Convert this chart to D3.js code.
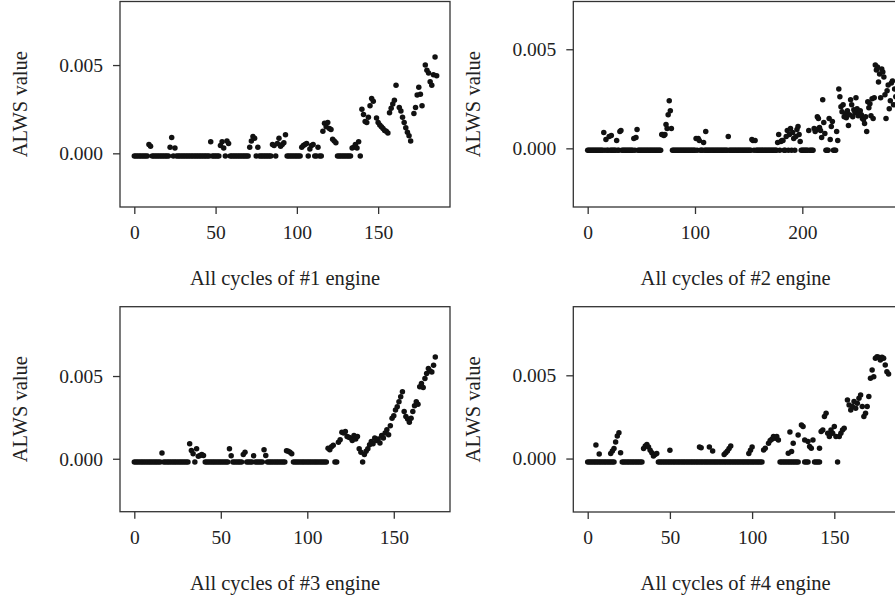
<!DOCTYPE html>
<html>
<head>
<meta charset="utf-8">
<script src="https://cdn.jsdelivr.net/npm/d3@7"></script>
<style>
  html, body { margin: 0; padding: 0; background: #fff; }
  svg { display: block; }
  text { font-family: "Liberation Serif", "Times New Roman", serif; fill: #222; }
</style>
</head>
<body>
<svg id="chart" width="895" height="604"></svg>
<script>
// ALWS value per cycle for four engines.
// flatN: runs of cycles [from, to] that sit on the flat level flatLevelN.
// raisedN: cycles whose ALWS value lifts above the flat level, as [cycle, value].

const flatLevel1 = -0.00015;
const flat1 = [[0,8],[11,21],[24,24],[26,46],[48,52],[56,56],[59,70],[75,75],[77,84],[87,87],
  [94,102],[107,107],[111,112],[114,115],[125,133],[139,139]];
const raised1 = [[9,.0005],[10,.0004],[22,.00035],[23,.0009],[25,.0003],[47,.00065],[53,.00045],
  [54,.00065],[55,.0003],[57,.0007],[58,.00055],[71,.00035],[72,.0007],[73,.00095],[74,.00085],
  [76,.00035],[85,.0005],[86,.00045],[88,.00055],[89,.00085],[90,.0004],[91,.0005],[92,.0006],
  [93,.00105],[103,.00035],[104,.00045],[105,.0005],[106,.00055],[108,.00025],[109,.00045],
  [110,.0005],[113,.00035],[116,.00125],[117,.0017],[118,.0015],[119,.00175],[120,.0014],
  [121,.00135],[122,.0008],[123,.0007],[124,.0006],[134,.0003],[135,.00035],[136,.0005],
  [137,.0003],[138,.00065],[140,.0025],[141,.0022],[142,.0018],[143,.00175],[144,.00205],
  [145,.0027],[146,.0031],[147,.00295],[149,.002],[150,.00175],[151,.0016],[152,.0015],
  [153,.0014],[154,.0013],[155,.00125],[156,.00115],[157,.0023],[158,.00255],[159,.0028],
  [160,.003],[161,.00385],[163,.0026],[164,.0024],[165,.00205],[166,.00175],[167,.00145],
  [168,.0012],[169,.001],[170,.0007],[172,.00225],[173,.0026],[174,.0033],[175,.00375],
  [176,.00335],[177,.0027],[179,.005],[180,.0047],[181,.00455],[182,.00405],[183,.00385],
  [184,.00445],[185,.00545],[186,.0044]];

const flatLevel2 = -0.0001;
const flat2 = [[0,14],[16,16],[18,19],[21,26],[28,29],[32,42],[44,44],[47,68],[79,100],[102,102],
  [105,107],[109,130],[132,152],[155,155],[157,176],[179,179],[183,184],[187,187],[190,190],
  [193,193],[199,205],[207,210],[222,224],[229,231]];
const raised2 = [[15,.0008],[17,.00045],[20,.0006],[22,.00065],[27,.0004],[30,.00085],[31,.0009],
  [43,.0005],[45,.00055],[46,.00095],[69,.0007],[70,.0007],[71,.00065],[72,.0007],[73,.0012],
  [74,.001],[75,.0017],[76,.0024],[77,.0019],[78,.001],[101,.0005],[103,.0005],[104,.0004],
  [108,.0003],[110,.00085],[131,.0006],[153,.00045],[154,.0004],[156,.0004],[177,.0003],
  [178,.0007],[180,.00035],[181,.0004],[182,.0004],[185,.0006],[186,.0009],[188,.0007],
  [189,.001],[191,.0008],[192,.0005],[194,.0006],[195,.00095],[196,.0011],[197,.0007],
  [198,.00035],[206,.0009],[211,.001],[212,.00085],[213,.00095],[214,.0016],[215,.0015],
  [216,.00105],[217,.0009],[218,.00055],[219,.00245],[220,.0013],[221,.00075],[225,.0015],
  [226,.00045],[227,.0011],[228,.00135],[232,.00085],[233,.0004],[234,.003],[235,.0026],
  [236,.0021],[237,.00185],[238,.0022],[239,.0016],[240,.00175],[241,.00155],[242,.0019],
  [243,.00115],[244,.0017],[245,.00245],[246,.0022],[247,.0016],[248,.00195],[249,.0018],
  [250,.00255],[251,.002],[252,.00165],[253,.0018],[254,.0019],[255,.0017],[256,.0015],
  [257,.00145],[258,.00125],[259,.0016],[260,.00085],[261,.00235],[262,.00205],[263,.00225],
  [264,.00165],[265,.0025],[266,.0015],[267,.00255],[268,.0042],[269,.00395],[270,.0041],
  [271,.00335],[272,.00375],[273,.00255],[274,.004],[275,.00385],[276,.0036],[277,.0027],
  [278,.0015],[279,.0029],[280,.0032],[281,.002],[282,.0024],[283,.0033],[284,.0034],
  [285,.0022],[286,.003],[287,.0026]];

const flatLevel3 = -0.0002;
const flat3 = [[0,15],[17,31],[35,35],[41,54],[57,62],[65,68],[70,74],[77,87],[92,111],[116,117],
  [132,132]];
const raised3 = [[16,.00035],[32,.0009],[33,.0005],[34,.0003],[36,.0006],[37,.00015],[38,.0002],
  [39,.00025],[40,.0002],[55,.0006],[56,.00018],[63,.00025],[64,.0004],[69,.00018],[75,.00055],
  [76,.0002],[88,.00048],[89,.00045],[90,.0004],[91,.0003],[112,.00063],[113,.00054],
  [114,.00072],[115,.00082],[118,.001],[119,.00115],[120,.0016],[121,.00155],[122,.00165],
  [123,.00135],[124,.0013],[125,.00125],[126,.0011],[127,.0014],[128,.0012],[129,.00135],
  [130,.0006],[131,.0004],[133,.00025],[134,.00045],[135,.0006],[136,.00085],[137,.00105],
  [138,.0009],[139,.00125],[140,.0011],[141,.0012],[142,.00095],[143,.0014],[144,.00125],
  [145,.00155],[146,.00175],[147,.00145],[148,.002],[149,.00245],[150,.0026],[151,.00295],
  [152,.00315],[153,.00345],[154,.00375],[155,.00405],[156,.00285],[157,.00255],[158,.0024],
  [159,.0022],[160,.00245],[161,.00285],[162,.0032],[163,.00345],[164,.0033],[165,.00435],
  [166,.00455],[167,.0043],[168,.00485],[169,.00515],[170,.00545],[171,.0053],[172,.00525],
  [173,.00565],[174,.00615]];

const flatLevel4 = -0.0002;
const flat4 = [[0,16],[21,33],[43,87],[88,106],[117,128],[132,134],[138,141],[152,152]];
const raised4 = [[5,.00082],[7,.00028],[14,.0003],[15,.00045],[16,.0006],[17,.001],[18,.00135],
  [19,.00155],[20,.00035],[34,.0006],[35,.00075],[36,.00085],[37,.0007],[38,.0005],[39,.00035],
  [40,.00015],[41,.00025],[42,.0003],[50,.0005],[68,.0007],[69,.00065],[74,.0007],[76,.00045],
  [83,.00025],[84,.00035],[85,.00045],[86,.0006],[87,.00075],[98,.0003],[99,.0005],[100,.0007],
  [107,.00052],[108,.00062],[110,.00092],[111,.00108],[112,.00116],[113,.00132],[114,.00122],
  [115,.00132],[116,.00112],[122,.00032],[123,.0016],[124,.00042],[125,.00092],[128,.00142],
  [130,.00202],[131,.00192],[132,.00112],[134,.00102],[135,.00072],[136,.00062],[137,.00112],
  [141,.00062],[142,.00162],[143,.00172],[144,.00252],[145,.00272],[146,.00152],[147,.00132],
  [148,.00172],[149,.00152],[150,.00192],[151,.00132],[153,.00132],[154,.00152],[155,.00172],
  [156,.00182],[158,.00352],[159,.00322],[160,.00292],[161,.00312],[162,.00342],[163,.00302],
  [164,.00332],[165,.00362],[166,.00382],[167,.00312],[168,.00252],[169,.00272],[170,.00312],
  [171,.00372],[172,.00482],[173,.00532],[174,.00492],[175,.00602],[176,.00612],[177,.00608],
  [178,.00592],[179,.00608],[180,.00602],[181,.00562],[182,.00522],[183,.00508]];

const xTicks1 = [0, 50, 100, 150];
const xTicks2 = [0, 100, 200];
const xTicks3 = [0, 50, 100, 150];
const xTicks4 = [0, 50, 100, 150];
const yTicks = [0, 0.005];
const xTitles = ["All cycles of #1 engine", "All cycles of #2 engine",
                 "All cycles of #3 engine", "All cycles of #4 engine"];
const yTitle = "ALWS value";

// Panel frames (pixels) and the data extent each frame spans.
const panels = [
  { flat: flat1, level: flatLevel1, raised: raised1, ticks: xTicks1, title: xTitles[0],
    left: 120, right: 450, top: 1.5, bottom: 207, xDom: [-8.8, 194.2], yDom: [-0.00304, 0.0086] },
  { flat: flat2, level: flatLevel2, raised: raised2, ticks: xTicks2, title: xTitles[1],
    left: 573.3, right: 903.3, top: 1.5, bottom: 207, xDom: [-13.4, 294.1], yDom: [-0.00296, 0.00741] },
  { flat: flat3, level: flatLevel3, raised: raised3, ticks: xTicks3, title: xTitles[2],
    left: 120, right: 450, top: 306.7, bottom: 511.7, xDom: [-8.27, 182.5], yDom: [-0.0032, 0.00919] },
  { flat: flat4, level: flatLevel4, raised: raised4, ticks: xTicks4, title: xTitles[3],
    left: 573.3, right: 903.3, top: 306.7, bottom: 512, xDom: [-8.76, 191.97], yDom: [-0.00321, 0.00912] }
];

const svg = d3.select("#chart");
const fmt = d3.format(".3f");
const INK = "#333";

panels.forEach(p => {
  const x = d3.scaleLinear().domain(p.xDom).range([p.left, p.right]);
  const y = d3.scaleLinear().domain(p.yDom).range([p.bottom, p.top]);

  // points: flat runs expanded to one point per cycle, then lifted cycles
  const pts = [];
  p.flat.forEach(([a, b]) => { for (let c = a; c <= b; c++) pts.push([c, p.level]); });
  p.raised.forEach(d => pts.push(d));

  const g = svg.append("g");

  g.append("g").selectAll("circle").data(pts).join("circle")
    .attr("cx", d => x(d[0]))
    .attr("cy", d => y(d[1]))
    .attr("r", 2.75)
    .attr("fill", "#111");

  // frame
  g.append("rect")
    .attr("x", p.left).attr("y", p.top)
    .attr("width", p.right - p.left).attr("height", p.bottom - p.top)
    .attr("fill", "none").attr("stroke", INK).attr("stroke-width", 1.3);

  // x axis
  const xa = g.append("g").attr("transform", `translate(0,${p.bottom})`)
    .call(d3.axisBottom(x).tickValues(p.ticks).tickSize(7).tickPadding(11).tickFormat(d3.format("d")));
  xa.select(".domain").remove();
  xa.selectAll("line").attr("stroke", INK).attr("stroke-width", 1.3);
  xa.selectAll("text").attr("font-size", "19.5px").attr("fill", "#222")
    .attr("font-family", "'Liberation Serif', serif");

  // y axis
  const ya = g.append("g").attr("transform", `translate(${p.left},0)`)
    .call(d3.axisLeft(y).tickValues(yTicks).tickSize(7).tickPadding(10).tickFormat(fmt));
  ya.select(".domain").remove();
  ya.selectAll("line").attr("stroke", INK).attr("stroke-width", 1.3);
  ya.selectAll("text").attr("font-size", "19.5px").attr("fill", "#222")
    .attr("font-family", "'Liberation Serif', serif");

  // titles
  g.append("text")
    .attr("x", (p.left + Math.min(p.right, 898)) / 2)
    .attr("y", p.bottom + 78)
    .attr("text-anchor", "middle")
    .attr("font-size", "20.5px")
    .text(p.title);

  g.append("text")
    .attr("transform", `translate(${p.left - 93},${(p.top + p.bottom) / 2}) rotate(-90)`)
    .attr("text-anchor", "middle")
    .attr("font-size", "20.5px")
    .text(yTitle);
});
</script>
</body>
</html>
